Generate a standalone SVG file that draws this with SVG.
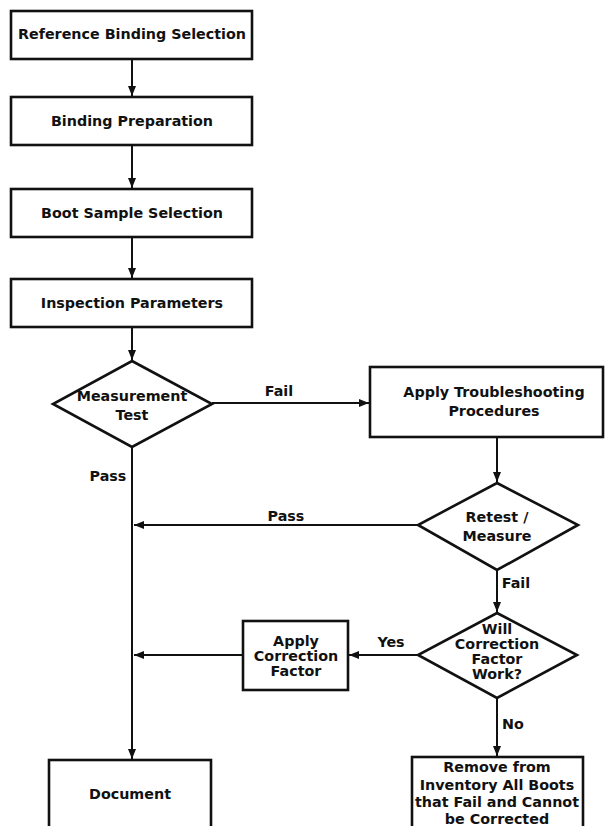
<svg xmlns="http://www.w3.org/2000/svg" width="607" height="826" viewBox="0 0 607 826">
<defs>
<marker id="ah" markerWidth="10" markerHeight="8" refX="10" refY="4" orient="auto" markerUnits="userSpaceOnUse">
<path d="M0,0 L10,4 L0,8 Z" fill="#111"/>
</marker>
<style>
.n{fill:#fff;stroke:#111;stroke-width:2.6}
.c{fill:none;stroke:#111;stroke-width:2;marker-end:url(#ah)}
text{font-family:"DejaVu Sans",Verdana,sans-serif;font-weight:bold;font-size:14.3px;fill:#111;text-anchor:middle}
</style>
</defs>
<rect width="607" height="826" fill="#fff"/>
<g id="connectors">
<line class="c" x1="132" y1="59" x2="132" y2="96"/>
<line class="c" x1="132" y1="145" x2="132" y2="188"/>
<line class="c" x1="132" y1="237" x2="132" y2="278"/>
<line class="c" x1="132" y1="327" x2="132" y2="360"/>
<line class="c" x1="212" y1="403" x2="369" y2="403"/>
<line class="c" x1="132" y1="447" x2="132" y2="759"/>
<line class="c" x1="497" y1="437" x2="497" y2="482"/>
<line class="c" x1="418" y1="525" x2="134" y2="525"/>
<line class="c" x1="497" y1="570" x2="497" y2="612"/>
<line class="c" x1="418" y1="655" x2="349" y2="655"/>
<line class="c" x1="243" y1="655" x2="134" y2="655"/>
<line class="c" x1="497" y1="698" x2="497" y2="756"/>
<text x="279" y="396">Fail</text>
<text x="108" y="481">Pass</text>
<text x="286" y="521">Pass</text>
<text x="516" y="588">Fail</text>
<text x="391" y="647">Yes</text>
<text x="513" y="729">No</text>
</g>
<g id="n1"><rect class="n" x="11" y="11" width="241" height="48"/><text x="132" y="39">Reference Binding Selection</text></g>
<g id="n2"><rect class="n" x="11" y="97" width="241" height="48"/><text x="132" y="126">Binding Preparation</text></g>
<g id="n3"><rect class="n" x="11" y="189" width="241" height="48"/><text x="132" y="218">Boot Sample Selection</text></g>
<g id="n4"><rect class="n" x="11" y="279" width="241" height="48"/><text x="132" y="308">Inspection Parameters</text></g>
<g id="d1"><polygon class="n" points="132,361 212,404 132,447 53,404"/><text x="132" y="401">Measurement</text><text x="132" y="420">Test</text></g>
<g id="n5"><rect class="n" x="370" y="367" width="233" height="70"/><text x="494" y="397">Apply Troubleshooting</text><text x="494" y="416">Procedures</text></g>
<g id="d2"><polygon class="n" points="497,483 578,525 497,570 418,525"/><text x="497" y="522">Retest /</text><text x="497" y="541">Measure</text></g>
<g id="d3"><polygon class="n" points="497,613 577,655 497,698 418,655"/><text x="497" y="634">Will</text><text x="497" y="649">Correction</text><text x="497" y="664">Factor</text><text x="497" y="679">Work?</text></g>
<g id="n6"><rect class="n" x="243" y="621" width="105" height="69"/><text x="296" y="646">Apply</text><text x="296" y="661">Correction</text><text x="296" y="676">Factor</text></g>
<g id="n7"><rect class="n" x="49" y="760" width="162" height="80"/><text x="130" y="799">Document</text></g>
<g id="n8"><rect class="n" x="412" y="757" width="171" height="80"/><text x="497" y="772">Remove from</text><text x="497" y="790">Inventory All Boots</text><text x="497" y="807">that Fail and Cannot</text><text x="497" y="824">be Corrected</text></g>
</svg>
